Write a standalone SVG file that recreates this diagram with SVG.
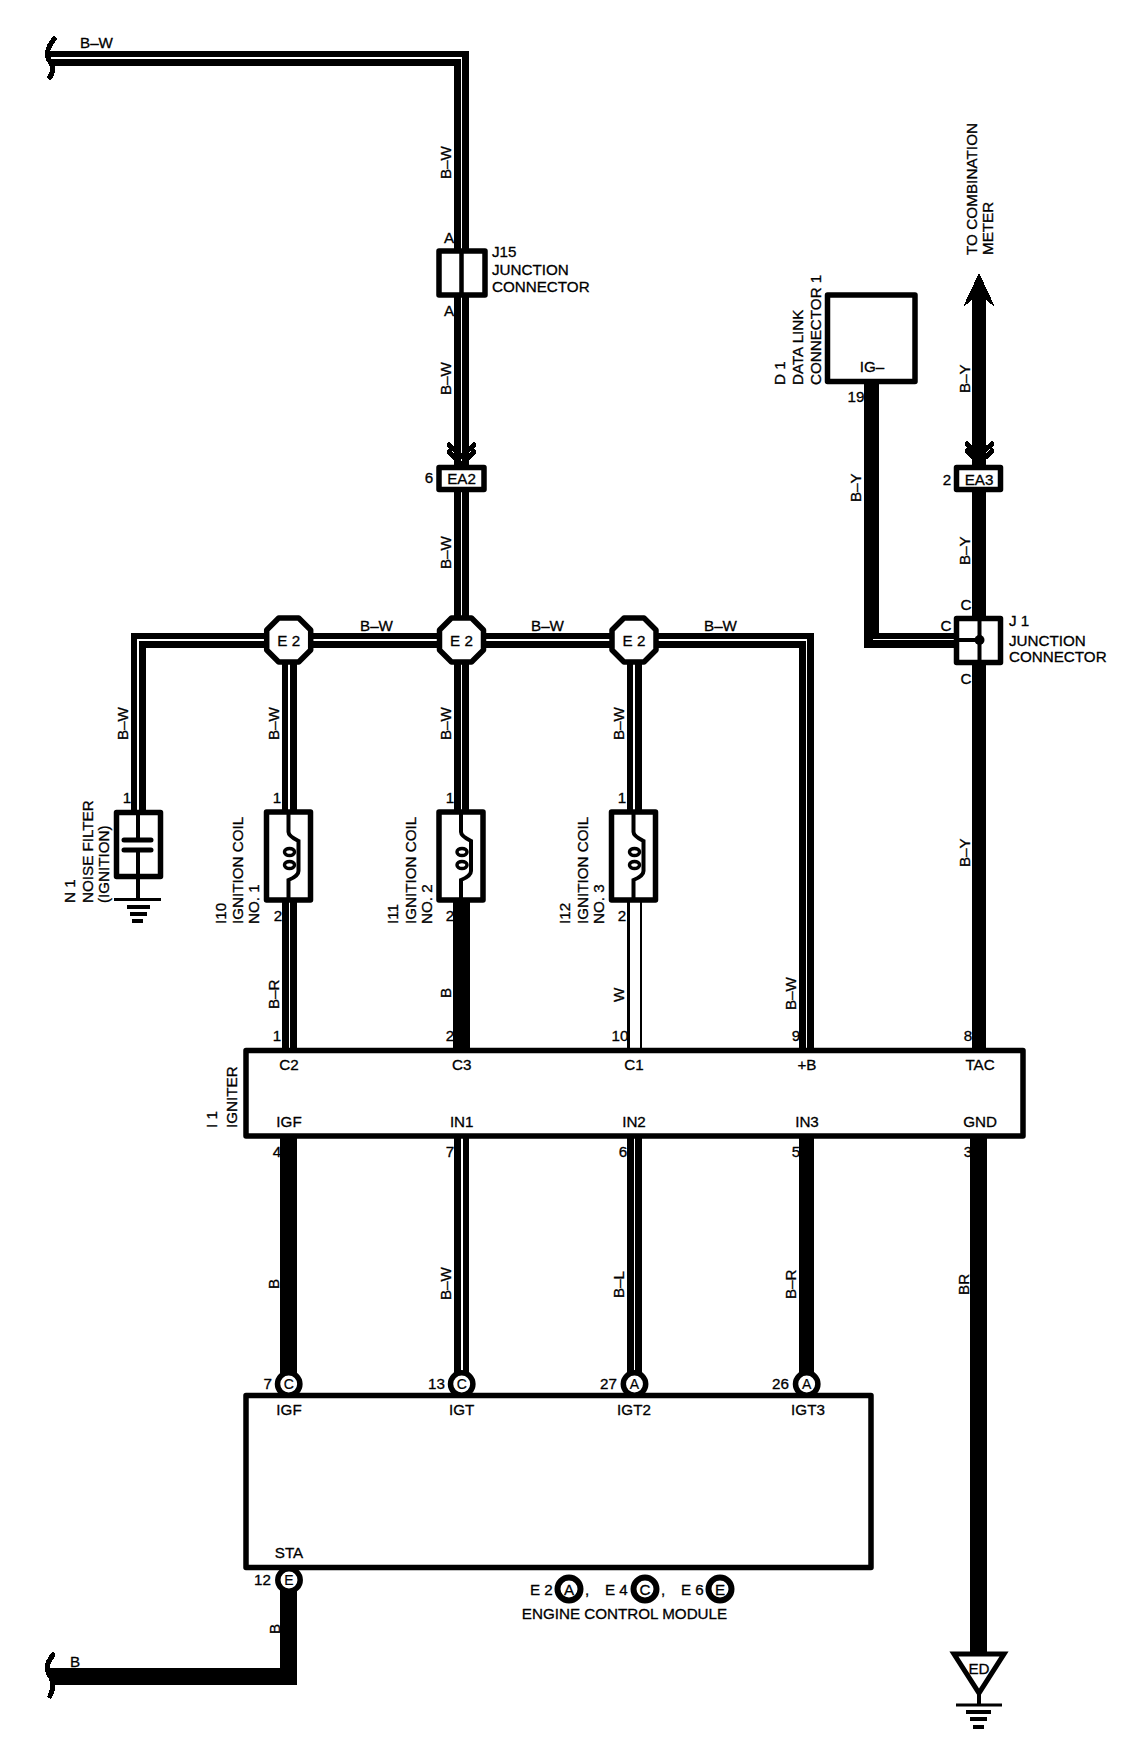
<svg xmlns="http://www.w3.org/2000/svg" width="1136" height="1748" viewBox="0 0 1136 1748">
<style>
text{font-family:"Liberation Sans",Arial,sans-serif;font-size:15.2px;fill:#000;stroke:#000;stroke-width:.3}
.m{text-anchor:middle}.e{text-anchor:end}
.w,.s,.c,.l,.b{fill:none}
.w{stroke:#000;stroke-width:15}
.s{stroke:#000;stroke-width:17}
.c{stroke:#fff;stroke-width:1.6}
.b{stroke:#000;stroke-width:5}
.l{stroke:#000;stroke-width:4}
.box{fill:#fff;stroke:#000;stroke-width:5.5;stroke-linejoin:round}
.pin{fill:#fff;stroke:#000;stroke-width:5.5}
.leg{fill:#fff;stroke:#000;stroke-width:6}
.br{fill:none;stroke:#000;stroke-width:5;stroke-linecap:round}
.ch{fill:none;stroke:#000;stroke-width:5;stroke-linecap:round}
.t{font-size:14px;stroke-width:.2}
</style>
<defs>
<polygon id="oct" class="box" points="-10,-22 10,-22 22,-10 22,10 10,22 -10,22 -22,10 -22,-10"/>
<g id="coil">
<rect class="box" x="-23" y="-44" width="44" height="88"/>
<path class="l" d="M-1 -46V-24Q-1 -20 9 -15V15Q9 20 -1 24V46"/>
<ellipse cx="0" cy="-4" rx="5" ry="3.5" fill="#fff" stroke="#000" stroke-width="3.5"/>
<ellipse cx="0" cy="9" rx="5" ry="3.5" fill="#fff" stroke="#000" stroke-width="3.5"/>
</g>
</defs>
<rect width="1136" height="1748" fill="#fff"/>
<g id="wire-labels">
<text x="80" y="48">B–W</text>
<text transform="translate(451 179) rotate(-90)">B–W</text>
<text transform="translate(451 395) rotate(-90)">B–W</text>
<text transform="translate(451 569) rotate(-90)">B–W</text>
<text x="360" y="631">B–W</text>
<text x="531" y="631">B–W</text>
<text x="704" y="631">B–W</text>
<text transform="translate(128 740) rotate(-90)">B–W</text>
<text transform="translate(279 740) rotate(-90)">B–W</text>
<text transform="translate(451 740) rotate(-90)">B–W</text>
<text transform="translate(624 740) rotate(-90)">B–W</text>
<text transform="translate(279 1009) rotate(-90)">B–R</text>
<text transform="translate(451 998) rotate(-90)">B</text>
<text transform="translate(624 1002) rotate(-90)">W</text>
<text transform="translate(796 1010) rotate(-90)">B–W</text>
<text transform="translate(279 1289) rotate(-90)">B</text>
<text transform="translate(451 1300) rotate(-90)">B–W</text>
<text transform="translate(624 1298) rotate(-90)">B–L</text>
<text transform="translate(796 1299) rotate(-90)">B–R</text>
<text transform="translate(969 1295) rotate(-90)">BR</text>
<text transform="translate(280 1634) rotate(-90)">B</text>
<text x="70" y="1667">B</text>
<text transform="translate(861 502) rotate(-90)">B–Y</text>
<text transform="translate(970 393) rotate(-90)">B–Y</text>
<text transform="translate(970 565) rotate(-90)">B–Y</text>
<text transform="translate(970 867) rotate(-90)">B–Y</text>
</g>
<g id="pin-labels">
<text class="m" x="449" y="243">A</text>
<text class="m" x="449" y="316">A</text>
<text class="m" x="429" y="483">6</text>
<text class="m" x="947" y="485">2</text>
<text class="m" x="856" y="402">19</text>
<text class="m" x="966" y="610">C</text>
<text class="m" x="946" y="631">C</text>
<text class="m" x="966" y="684">C</text>
<text class="m" x="127" y="803">1</text>
<text class="m" x="277" y="803">1</text>
<text class="m" x="450" y="803">1</text>
<text class="m" x="622" y="803">1</text>
<text class="m" x="278" y="921">2</text>
<text class="m" x="450" y="921">2</text>
<text class="m" x="622" y="921">2</text>
<text class="m" x="277" y="1041">1</text>
<text class="m" x="450" y="1041">2</text>
<text class="m" x="620" y="1041">10</text>
<text class="m" x="796" y="1041">9</text>
<text class="m" x="968" y="1041">8</text>
<text class="m" x="277" y="1157">4</text>
<text class="m" x="450" y="1157">7</text>
<text class="m" x="623" y="1157">6</text>
<text class="m" x="796" y="1157">5</text>
<text class="m" x="968" y="1157">3</text>
<text class="e" x="272" y="1389">7</text>
<text class="e" x="445" y="1389">13</text>
<text class="e" x="617" y="1389">27</text>
<text class="e" x="789" y="1389">26</text>
<text class="e" x="271" y="1585">12</text>
</g>
<g id="connectors" shape-rendering="crispEdges">
<path class="w" d="M50 58H461.5V465"/><path class="c" d="M50 58H461.5V465"/>
<path class="w" d="M461.5 490V640"/><path class="c" d="M461.5 490V620"/>
<path class="w" d="M138 810V640H806.5V1050"/><path class="c" d="M138 810V640H806.5V1050"/>
<path class="w" d="M289 640V810M461.5 640V810M634 640V810"/><path class="c" d="M289 660V810M461.5 660V810M634 660V810"/>
<path class="w" d="M289.5 900V1050"/><path class="c" d="M289.5 900V1050"/>
<path class="s" d="M461.5 900V1053"/>
<path class="w" d="M634.5 900V1050"/><path d="M634.5 900V1050" fill="none" stroke="#fff" stroke-width="10"/>
<path class="s" d="M288.2 1130V1384"/>
<path class="w" d="M461.7 1136V1384"/><path class="c" d="M461.7 1136V1384"/>
<path class="w" d="M634.5 1136V1384"/><path class="c" d="M634.5 1136V1384"/>
<path class="w" d="M806.5 1136V1384"/>
<path class="s" d="M978.5 1130V1660"/>
<path d="M979 300V1048" fill="none" stroke="#000" stroke-width="14"/>
<path class="w" d="M871.5 384V640H956"/><path class="c" d="M873 639.5H956"/>
<path class="s" d="M288.5 1580V1676.5H50"/>
<path d="M979 274L994 306L986 299H972L964 306Z" fill="#000" stroke="#000" stroke-width="1" stroke-linejoin="round"/>
<path class="ch" d="M449 445L461.5 456L474 445M449 452L461.5 464L474 452"/>
<path class="ch" d="M967 444L979 455L992 444M967 451L979 463L992 451"/>
<path class="br" d="M54 39Q44 52 49 60Q56 68 50 77"/>
<path class="br" d="M53 1655Q44 1666 49 1674Q56 1684 50 1696"/>
</g>
<g id="J15">
<rect class="box" x="439" y="251" width="46" height="44"/>
<path d="M461.5 251V295" fill="none" stroke="#000" stroke-width="4.5"/>
<text x="492" y="257">J15</text><text x="492" y="275">JUNCTION</text><text x="492" y="292">CONNECTOR</text>
</g>
<g id="EA2"><rect class="box" x="439" y="467.5" width="45" height="22"/><text class="m" x="461.5" y="484">EA2</text></g>
<g id="EA3"><rect class="box" x="956.5" y="467.5" width="44" height="22"/><text class="m" x="979" y="484.5">EA3</text></g>
<g id="D1">
<rect class="box" x="827.5" y="295" width="87.5" height="86.5"/>
<text class="m" x="872" y="372">IG–</text>
<text transform="translate(785 385) rotate(-90)">D 1</text>
<text transform="translate(803 385) rotate(-90)">DATA LINK</text>
<text transform="translate(821 385) rotate(-90)">CONNECTOR 1</text>
</g>
<g id="combination-meter">
<text transform="translate(977 255) rotate(-90)" textLength="132">TO COMBINATION</text>
<text transform="translate(993 255) rotate(-90)">METER</text>
</g>
<g id="J1">
<rect class="box" x="956.5" y="618.5" width="44" height="44"/>
<path class="l" d="M979.5 618V662M956 640H979"/>
<circle cx="979.5" cy="640" r="5"/>
<text x="1009" y="626">J 1</text><text x="1009" y="646">JUNCTION</text><text x="1009" y="662">CONNECTOR</text>
</g>
<g id="E2-1"><use href="#oct" x="288.7" y="640"/><text class="m" x="288.7" y="646">E 2</text></g>
<g id="E2-2"><use href="#oct" x="461.5" y="640"/><text class="m" x="461.5" y="646">E 2</text></g>
<g id="E2-3"><use href="#oct" x="634" y="640"/><text class="m" x="634" y="646">E 2</text></g>
<g id="N1">
<rect class="box" x="116.5" y="812.5" width="44" height="64"/>
<path class="l" d="M138 812V840M138 850V899"/>
<path d="M124 840H151M124 850H151" stroke="#000" stroke-width="5" stroke-linecap="round" fill="none"/>
<path d="M114 899.5H161" stroke="#000" stroke-width="3" fill="none"/>
<path d="M127 907H150M130 914H147M132 921H143" stroke="#000" stroke-width="4" fill="none"/>
<text transform="translate(75 903) rotate(-90)">N 1</text>
<text transform="translate(93 903) rotate(-90)">NOISE FILTER</text>
<text transform="translate(109 903) rotate(-90)">(IGNITION)</text>
</g>
<g id="I10"><use href="#coil" x="289.5" y="856"/>
<text transform="translate(226 924) rotate(-90)">I10</text><text transform="translate(243 924) rotate(-90)">IGNITION COIL</text><text transform="translate(259 924) rotate(-90)">NO. 1</text></g>
<g id="I11"><use href="#coil" x="462" y="856"/>
<text transform="translate(398 924) rotate(-90)">I11</text><text transform="translate(416 924) rotate(-90)">IGNITION COIL</text><text transform="translate(432 924) rotate(-90)">NO. 2</text></g>
<g id="I12"><use href="#coil" x="634.5" y="856"/>
<text transform="translate(570 924) rotate(-90)">I12</text><text transform="translate(588 924) rotate(-90)">IGNITION COIL</text><text transform="translate(604 924) rotate(-90)">NO. 3</text></g>
<g id="I1">
<rect class="box" x="246" y="1050.5" width="777" height="85.5"/>
<text transform="translate(217 1128) rotate(-90)">I 1</text>
<text transform="translate(237 1128) rotate(-90)">IGNITER</text>
<g text-anchor="middle">
<text x="289" y="1070">C2</text><text x="461.7" y="1070">C3</text><text x="634" y="1070">C1</text><text x="807" y="1070">+B</text><text x="980" y="1070">TAC</text>
<text x="289" y="1127">IGF</text><text x="461.7" y="1127">IN1</text><text x="634" y="1127">IN2</text><text x="807" y="1127">IN3</text><text x="980" y="1127">GND</text>
</g>
</g>
<g id="ECM">
<rect class="box" x="246" y="1395.5" width="625" height="172"/>
<g text-anchor="middle">
<text x="289" y="1415">IGF</text><text x="461.7" y="1415">IGT</text><text x="634" y="1415">IGT2</text><text x="808" y="1415">IGT3</text>
<text x="289" y="1558">STA</text>
</g>
<circle class="pin" cx="288.7" cy="1384" r="11.2"/><text class="m t" x="288.7" y="1389">C</text>
<circle class="pin" cx="461.7" cy="1384" r="11.2"/><text class="m t" x="461.7" y="1389">C</text>
<circle class="pin" cx="634.5" cy="1384" r="11.2"/><text class="m t" x="634.5" y="1389">A</text>
<circle class="pin" cx="806.7" cy="1384" r="11.2"/><text class="m t" x="806.7" y="1389">A</text>
<circle class="pin" cx="289" cy="1580" r="11.2"/><text class="m t" x="289" y="1585">E</text>
<text x="530" y="1595">E 2</text>
<circle class="leg" cx="569" cy="1589" r="11.5"/><text class="m" x="569" y="1594.5">A</text>
<text x="585" y="1595">,</text>
<text x="605" y="1595">E 4</text>
<circle class="leg" cx="645" cy="1589" r="11.5"/><text class="m" x="645" y="1594.5">C</text>
<text x="661" y="1595">,</text>
<text x="681" y="1595">E 6</text>
<circle class="leg" cx="720" cy="1589" r="11.5"/><text class="m" x="720" y="1594.5">E</text>
<text class="m" x="624.5" y="1619">ENGINE CONTROL MODULE</text>
</g>
<g id="ED">
<polygon points="954,1654 1004,1654 979,1693" fill="#fff" stroke="#000" stroke-width="5"/>
<text class="m" x="979" y="1674">ED</text>
<path d="M979 1693V1705" stroke="#000" stroke-width="4" fill="none"/>
<path d="M956 1705H1002" stroke="#000" stroke-width="3" fill="none"/>
<path d="M966 1712H991M970 1719H987M973 1727H984" stroke="#000" stroke-width="4" fill="none"/>
</g>
</svg>
